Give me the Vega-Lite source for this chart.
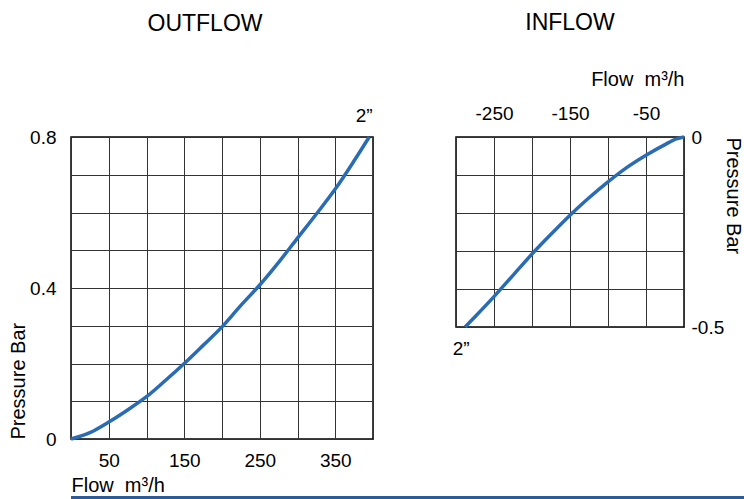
{
  "$schema": "https://vega.github.io/schema/vega-lite/v6.json",
  "padding": {"left": 7, "top": 11, "right": 0, "bottom": 0},
  "background": "white",
  "datasets": {
    "outflow": [
      {"flow": 0, "pressure": 0},
      {"flow": 25, "pressure": 0.017},
      {"flow": 50, "pressure": 0.045},
      {"flow": 75, "pressure": 0.077},
      {"flow": 100, "pressure": 0.112},
      {"flow": 125, "pressure": 0.155},
      {"flow": 150, "pressure": 0.2},
      {"flow": 175, "pressure": 0.248},
      {"flow": 200, "pressure": 0.297},
      {"flow": 225, "pressure": 0.354},
      {"flow": 250, "pressure": 0.408},
      {"flow": 275, "pressure": 0.468},
      {"flow": 300, "pressure": 0.532},
      {"flow": 325, "pressure": 0.596},
      {"flow": 350, "pressure": 0.662},
      {"flow": 375, "pressure": 0.737},
      {"flow": 395, "pressure": 0.8}
    ],
    "inflow": [
      {"flow": -288, "pressure": -0.5},
      {"flow": -275, "pressure": -0.473},
      {"flow": -250, "pressure": -0.42},
      {"flow": -225, "pressure": -0.364},
      {"flow": -200, "pressure": -0.308},
      {"flow": -175, "pressure": -0.256},
      {"flow": -150, "pressure": -0.206},
      {"flow": -125, "pressure": -0.16},
      {"flow": -100, "pressure": -0.118},
      {"flow": -75, "pressure": -0.08},
      {"flow": -50, "pressure": -0.048},
      {"flow": -25, "pressure": -0.02},
      {"flow": -10, "pressure": -0.005},
      {"flow": 0, "pressure": 0}
    ],
    "outLabel": [{"flow": 395, "pressure": 0.8, "size": "2\u201d"}],
    "inLabel": [{"flow": -288, "pressure": -0.5, "size": "2\u201d"}],
    "band": [{"part": "footer"}]
  },
  "spacing": 0,
  "bounds": "full",
  "vconcat": [
    {
      "spacing": 83,
      "bounds": "flush",
      "hconcat": [
        {
          "width": 302,
          "height": 302,
          "title": {"text": "OUTFLOW", "frame": "group", "offset": 71, "dx": -17},
          "layer": [
            {
              "data": {"name": "outflow"},
              "mark": {"type": "line", "interpolate": "monotone", "color": "#2a6cb4", "strokeWidth": 3.5, "clip": false},
              "encoding": {
                "x": {
                  "field": "flow", "type": "quantitative",
                  "scale": {"domain": [0, 400], "nice": false},
                  "axis": {
                    "values": [0, 50, 100, 150, 200, 250, 300, 350, 400],
                    "tickCount": 40,
                    "labelExpr": "datum.value % 100 == 50 ? datum.label : ''",
                    "labelPadding": 12,
                    "title": "Flow\u00a0\u00a0m\u00b3/h",
                    "titleAnchor": "start",
                    "titlePadding": 5
                  }
                },
                "y": {
                  "field": "pressure", "type": "quantitative",
                  "scale": {"domain": [0, 0.8], "nice": false},
                  "axis": {
                    "values": [0, 0.1, 0.2, 0.3, 0.4, 0.5, 0.6, 0.7, 0.8],
                    "tickCount": 40,
                    "format": "~g",
                    "labelExpr": "(datum.value == 0 || datum.value == 0.4 || datum.value == 0.8) ? datum.label : ''",
                    "labelPadding": 15,
                    "title": "Pressure Bar",
                    "titleAnchor": "start",
                    "titlePadding": 1
                  }
                }
              }
            },
            {
              "data": {"name": "outLabel"},
              "mark": {"type": "text", "fontSize": 19, "dx": -5, "dy": -21, "baseline": "middle", "align": "center", "color": "#000"},
              "encoding": {
                "x": {"field": "flow", "type": "quantitative"},
                "y": {"field": "pressure", "type": "quantitative"},
                "text": {"field": "size"}
              }
            }
          ]
        },
        {
          "width": 228,
          "height": 190,
          "title": {"text": "INFLOW", "frame": "group", "offset": 34},
          "layer": [
            {
              "data": {"name": "inflow"},
              "mark": {"type": "line", "interpolate": "monotone", "color": "#2a6cb4", "strokeWidth": 3.5, "clip": false},
              "encoding": {
                "x": {
                  "field": "flow", "type": "quantitative",
                  "scale": {"domain": [-300, 0], "nice": false},
                  "axis": {
                    "orient": "top",
                    "values": [-300, -250, -200, -150, -100, -50, 0],
                    "tickCount": 40,
                    "labelExpr": "(datum.value == -250 || datum.value == -150 || datum.value == -50) ? replace(datum.label, '\u2212', '-') : ''",
                    "labelPadding": 14,
                    "title": "Flow\u00a0\u00a0m\u00b3/h",
                    "titleAnchor": "end",
                    "titlePadding": 15
                  }
                },
                "y": {
                  "field": "pressure", "type": "quantitative",
                  "scale": {"domain": [-0.5, 0], "nice": false},
                  "axis": {
                    "orient": "right",
                    "values": [-0.5, -0.4, -0.3, -0.2, -0.1, 0],
                    "tickCount": 40,
                    "format": "~g",
                    "labelExpr": "(datum.value == 0 || datum.value == -0.5) ? replace(datum.label, '\u2212', '-') : ''",
                    "labelPadding": 7,
                    "title": "Pressure Bar",
                    "titleAnchor": "end",
                    "titleAlign": "left",
                    "titlePadding": -1
                  }
                }
              }
            },
            {
              "data": {"name": "inLabel"},
              "mark": {"type": "text", "fontSize": 19, "dx": -4, "dy": 22, "baseline": "middle", "align": "center", "color": "#000"},
              "encoding": {
                "x": {"field": "flow", "type": "quantitative"},
                "y": {"field": "pressure", "type": "quantitative"},
                "text": {"field": "size"}
              }
            }
          ]
        }
      ]
    },
    {
      "width": 737,
      "height": 6,
      "data": {"name": "band"},
      "view": {"stroke": null, "fill": "#2c5b9a"},
      "mark": {"type": "rect", "color": "#2c5b9a"},
      "encoding": {}
    }
  ],
  "config": {
    "font": "Liberation Sans",
    "view": {"stroke": "#000", "strokeWidth": 1.5},
    "axis": {
      "grid": true,
      "gridColor": "#333",
      "gridOpacity": 1,
      "gridWidth": 1,
      "domain": false,
      "ticks": false,
      "labelFontSize": 19,
      "labelColor": "#000",
      "labelFont": "Liberation Sans",
      "labelFlush": false,
      "labelOverlap": false,
      "titleFontSize": 20,
      "titleFontWeight": "normal",
      "titleColor": "#000",
      "titleFont": "Liberation Sans"
    },
    "title": {"fontSize": 23, "fontWeight": "normal", "color": "#000", "font": "Liberation Sans"}
  }
}
